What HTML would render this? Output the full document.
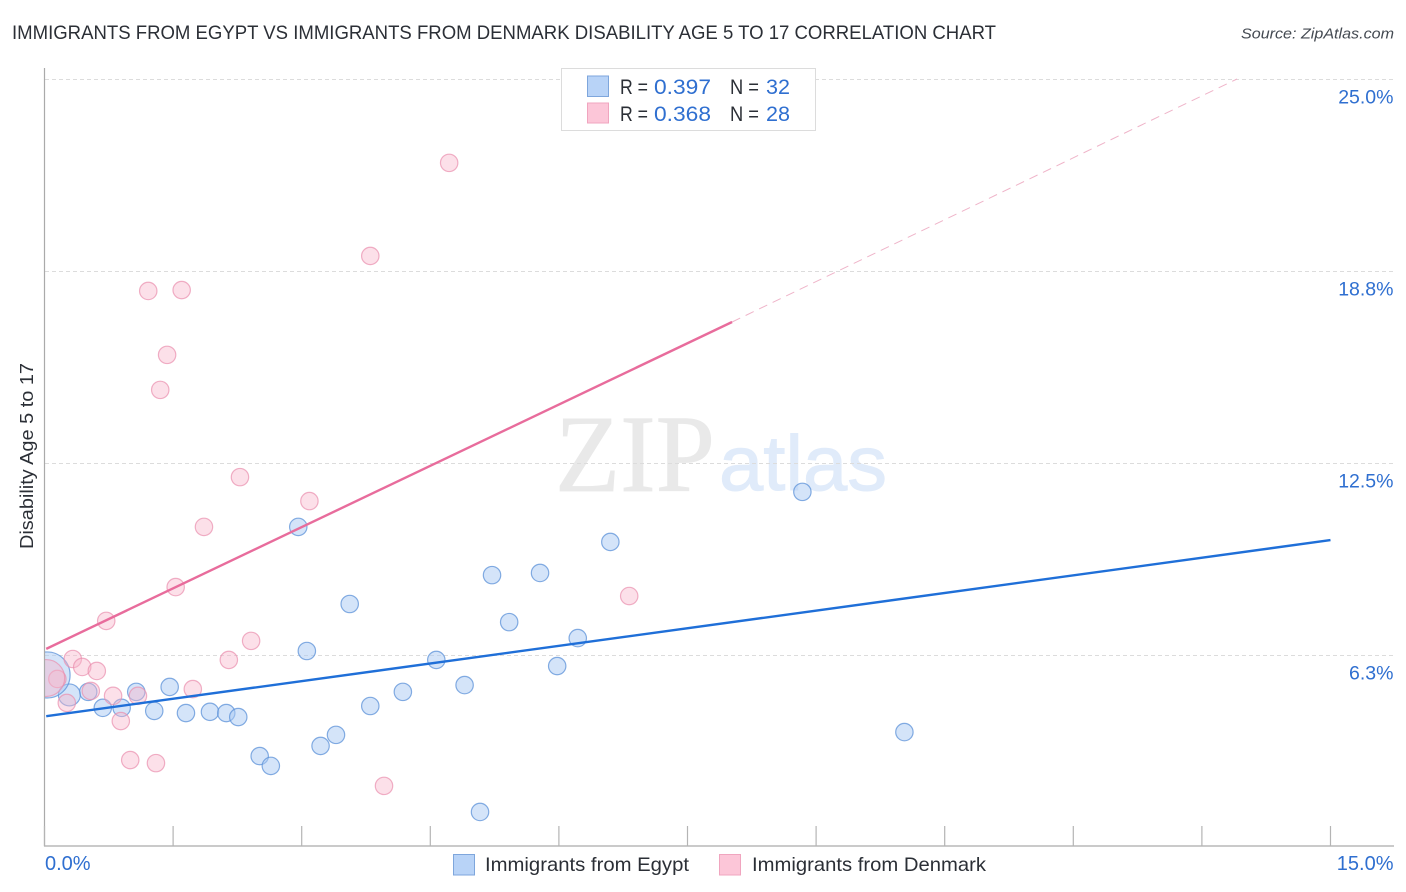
<!DOCTYPE html>
<html lang="en">
<head>
<meta charset="utf-8">
<title>Immigrants from Egypt vs Immigrants from Denmark Disability Age 5 to 17 Correlation Chart</title>
<style>
html,body{margin:0;padding:0;background:#fff;width:1406px;height:892px;overflow:hidden}
svg{display:block}
text{font-family:"Liberation Sans",sans-serif}
</style>
</head>
<body>
<svg id="chart" width="1406" height="892" viewBox="0 0 1406 892" xmlns="http://www.w3.org/2000/svg">
  <defs><clipPath id="plot-clip"><rect x="45" y="60" width="1350" height="786"/></clipPath></defs>
  <text x="12" y="39" font-size="19.5" fill="#2b2f36" textLength="984" lengthAdjust="spacingAndGlyphs">IMMIGRANTS FROM EGYPT VS IMMIGRANTS FROM DENMARK DISABILITY AGE 5 TO 17 CORRELATION CHART</text>
  <text x="1241" y="38.5" font-size="15" font-style="italic" fill="#444a52" textLength="153" lengthAdjust="spacingAndGlyphs">Source: ZipAtlas.com</text>

  <g>
    <text x="555" y="491" font-size="110" fill="#e9e9e9" stroke="#e9e9e9" stroke-width="0.8" style="font-family:'Liberation Serif',serif" textLength="160" lengthAdjust="spacingAndGlyphs">ZIP</text>
    <text x="719" y="490" font-size="78" fill="#e0ebfa" stroke="#e0ebfa" stroke-width="1" textLength="168" lengthAdjust="spacingAndGlyphs">atlas</text>
  </g>

  <g id="grid"></g>
  <g id="points-egypt" clip-path="url(#plot-clip)"></g>
  <g id="points-denmark" clip-path="url(#plot-clip)"></g>
  <rect x="20" y="640" width="24.5" height="70" fill="#fff"/>
  <g id="axes"></g>
  <g id="trends"></g>
  <g id="labels"></g>

  <text transform="translate(33,456) rotate(-90)" text-anchor="middle" font-size="18" fill="#2b2f36" textLength="186" lengthAdjust="spacingAndGlyphs">Disability Age 5 to 17</text>

  <g>
    <rect x="561.5" y="68.5" width="254" height="62" fill="#fff" stroke="#dcdcdc" stroke-width="1"/>
    <rect x="587.5" y="76" width="21" height="20.5" fill="#b8d3f7" stroke="#7ea6dc" stroke-width="1"/>
    <rect x="587.5" y="103" width="21" height="20" fill="#fcc6d8" stroke="#f0a5bf" stroke-width="1"/>
    <g font-size="21">
      <text x="620" y="94" fill="#2b2f36" textLength="28" lengthAdjust="spacingAndGlyphs">R =</text>
      <text x="654" y="94" fill="#2f6fd0" textLength="57" lengthAdjust="spacingAndGlyphs">0.397</text>
      <text x="730" y="94" fill="#2b2f36" textLength="29" lengthAdjust="spacingAndGlyphs">N =</text>
      <text x="766" y="94" fill="#2f6fd0" textLength="24" lengthAdjust="spacingAndGlyphs">32</text>
      <text x="620" y="121" fill="#2b2f36" textLength="28" lengthAdjust="spacingAndGlyphs">R =</text>
      <text x="654" y="121" fill="#2f6fd0" textLength="57" lengthAdjust="spacingAndGlyphs">0.368</text>
      <text x="730" y="121" fill="#2b2f36" textLength="29" lengthAdjust="spacingAndGlyphs">N =</text>
      <text x="766" y="121" fill="#2f6fd0" textLength="24" lengthAdjust="spacingAndGlyphs">28</text>
    </g>
  </g>

  <g>
    <rect x="453.5" y="854.5" width="21" height="20.5" fill="#b8d3f7" stroke="#7ea6dc" stroke-width="1"/>
    <text x="485" y="871" font-size="19.5" fill="#2b2f36" textLength="204" lengthAdjust="spacingAndGlyphs">Immigrants from Egypt</text>
    <rect x="719.5" y="854.5" width="21" height="20.5" fill="#fcc6d8" stroke="#f0a5bf" stroke-width="1"/>
    <text x="752" y="871" font-size="19.5" fill="#2b2f36" textLength="234" lengthAdjust="spacingAndGlyphs">Immigrants from Denmark</text>
  </g>
</svg>
<script>
var yTickValues = [6.25, 12.5, 18.75, 25];
var yTickLabels = ['6.3%', '12.5%', '18.8%', '25.0%'];
var xTickValues = [0, 1.5, 3, 4.5, 6, 7.5, 9, 10.5, 12, 13.5, 15];
var xEndValues = [0, 15];
var xEndLabels = ['0.0%', '15.0%'];

var egyptX = [8.84, 6.60, 5.22, 5.78, 3.56, 5.42, 6.22, 2.96, 3.06, 4.57, 5.98, 4.90, 4.18, 3.80, 1.46, 1.07, 0.51, 0.29, 0.68, 0.90, 1.28, 1.65, 1.93, 2.12, 2.26, 2.51, 2.64, 3.22, 3.40, 10.03, 5.08, 0.03];
var egyptY = [11.56, 9.93, 8.85, 8.92, 7.91, 7.32, 6.80, 10.42, 6.38, 6.09, 5.89, 5.27, 5.05, 4.59, 5.21, 5.05, 5.05, 4.95, 4.53, 4.53, 4.43, 4.36, 4.40, 4.36, 4.23, 2.96, 2.64, 3.29, 3.65, 3.74, 1.14, 5.60];
var egyptWeight = [1, 1, 1, 1, 1, 1, 1, 1, 1, 1, 1, 1, 1, 1, 1, 1, 1, 1.6, 1, 1, 1, 1, 1, 1, 1, 1, 1, 1, 1, 1, 1, 7];

var denmarkX = [4.72, 3.80, 1.21, 1.60, 1.43, 1.35, 2.28, 3.09, 1.86, 1.53, 0.72, 6.82, 2.41, 2.15, 0.33, 0.44, 0.61, 0.15, 0.54, 0.80, 1.09, 1.73, 0.26, 0.89, 1.00, 1.30, 3.96, 0.02];
var denmarkY = [22.27, 19.24, 18.10, 18.13, 16.02, 14.88, 12.04, 11.26, 10.42, 8.46, 7.36, 8.17, 6.71, 6.09, 6.12, 5.86, 5.73, 5.47, 5.08, 4.92, 4.92, 5.14, 4.69, 4.10, 2.83, 2.73, 1.99, 5.50];
var denmarkWeight = [1, 1, 1, 1, 1, 1, 1, 1, 1, 1, 1, 1, 1, 1, 1, 1, 1, 1, 1, 1, 1, 1, 1, 1, 1, 1, 1, 4.5];

var egyptTrendX = [0.02, 15];
var egyptTrendY = [4.26, 9.99];
var denmarkTrendX = [0.02, 8.02];
var denmarkTrendY = [6.45, 17.09];
var denmarkDashX = [8.02, 13.91];
var denmarkDashY = [17.09, 25];

var NS = 'http://www.w3.org/2000/svg';
function sx(v) { return 44.5 + v * 85.733; }
function sy(v) { return 847 - v * 30.72; }
function make(parentId, tag, attrs) {
  var el = document.createElementNS(NS, tag);
  for (var k in attrs) { el.setAttribute(k, attrs[k]); }
  document.getElementById(parentId).appendChild(el);
  return el;
}

yTickValues.forEach(function (v) {
  var g = make('grid', 'line', { x1: 45, x2: 1394, y1: sy(v) + 0.5, y2: sy(v) + 0.5, stroke: '#dcdcdc', 'stroke-width': 1, 'stroke-dasharray': '4 3' });
  
  
});

var yAxis = make('axes', 'line', { x1: 44.5, x2: 44.5, y1: 68, y2: 846.5, stroke: '#aaaaaa', 'stroke-width': 1.2 });


var xAxis = make('axes', 'line', { x1: 44, x2: 1394, y1: 846, y2: 846, stroke: '#aaaaaa', 'stroke-width': 1.2 });


xTickValues.forEach(function (v) {
  var t = make('axes', 'line', { x1: sx(v), x2: sx(v), y1: 826, y2: 846, stroke: '#b4b4b4', 'stroke-width': 1.2 });
  
  
});

egyptX.forEach(function (v, i) {
  var c = make('points-egypt', 'circle', { cx: sx(v), cy: sy(egyptY[i]), r: 8.7 * Math.sqrt(egyptWeight[i]), fill: '#a9caf3', 'fill-opacity': 0.5, stroke: '#5c92d8', 'stroke-opacity': 0.75, 'stroke-width': 1.2 });
  
  
});
denmarkX.forEach(function (v, i) {
  var c = make('points-denmark', 'circle', { cx: sx(v), cy: sy(denmarkY[i]), r: 8.7 * Math.sqrt(denmarkWeight[i]), fill: '#f9b4cb', 'fill-opacity': 0.42, stroke: '#ea8fae', 'stroke-opacity': 0.7, 'stroke-width': 1.2 });
  
  
});

var t1 = make('trends', 'line', { x1: sx(egyptTrendX[0]), y1: sy(egyptTrendY[0]), x2: sx(egyptTrendX[1]), y2: sy(egyptTrendY[1]), stroke: '#1f6fd8', 'stroke-width': 2.4 });


var t2 = make('trends', 'line', { x1: sx(denmarkTrendX[0]), y1: sy(denmarkTrendY[0]), x2: sx(denmarkTrendX[1]), y2: sy(denmarkTrendY[1]), stroke: '#e86c9c', 'stroke-width': 2.4 });


var t3 = make('trends', 'line', { x1: sx(denmarkDashX[0]), y1: sy(denmarkDashY[0]), x2: sx(denmarkDashX[1]), y2: sy(denmarkDashY[1]), stroke: '#efb4c9', 'stroke-width': 1, 'stroke-dasharray': '9 6' });



yTickLabels.forEach(function (s, i) {
  var l = make('labels', 'text', { x: 1393.5, y: sy(yTickValues[i]) + 24.5, 'text-anchor': 'end', 'font-size': 19.5, fill: '#2f6fd0' });
  l.textContent = s;
  
  
});
xEndLabels.forEach(function (s, i) {
  var l = make('labels', 'text', { x: i === 0 ? 45 : 1393.5, y: 870, 'text-anchor': i === 0 ? 'start' : 'end', 'font-size': 20, fill: '#2f6fd0' });
  l.textContent = s;
  
  
});
</script>
</body>
</html>
